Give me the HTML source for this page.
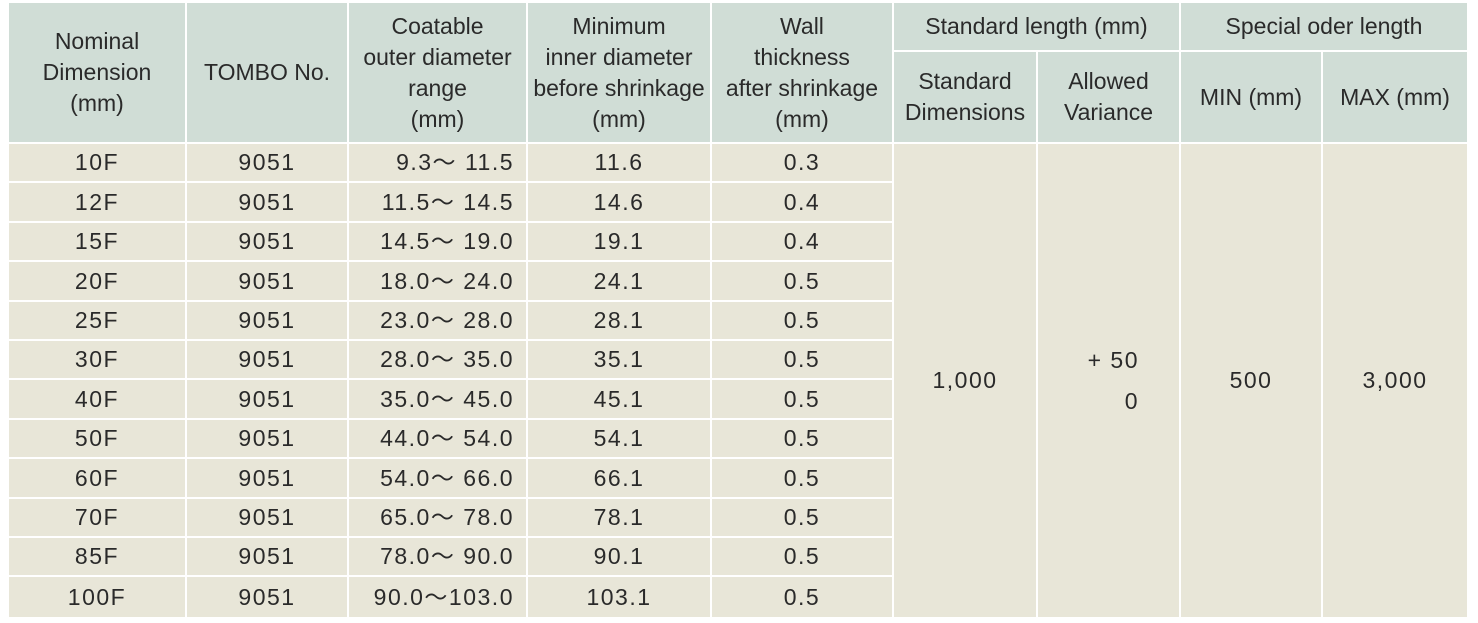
<!DOCTYPE html>
<html><head><meta charset="utf-8"><style>
body{margin:0;width:1478px;height:623px;background:#fff;position:relative;overflow:hidden;font-family:"Liberation Sans","Noto Sans CJK JP",sans-serif;color:#2a2a2a}
.c{position:absolute;display:flex;align-items:center;justify-content:center;text-align:center;font-size:23px;line-height:31px;box-sizing:border-box}
.h{background:#d0ddd6}
.b{background:#e8e6d8;letter-spacing:1.5px}
.r{justify-content:flex-end;padding-right:12px;white-space:pre}
</style></head><body>
<div class="c h" style="left:9px;top:3px;width:176px;height:139px">Nominal<br>Dimension<br>(mm)</div>
<div class="c h" style="left:187px;top:3px;width:160px;height:139px">TOMBO No.</div>
<div class="c h" style="left:349px;top:3px;width:177px;height:139px">Coatable<br>outer diameter<br>range<br>(mm)</div>
<div class="c h" style="left:528px;top:3px;width:182px;height:139px">Minimum<br>inner diameter<br>before shrinkage<br>(mm)</div>
<div class="c h" style="left:712px;top:3px;width:180px;height:139px">Wall<br>thickness<br>after shrinkage<br>(mm)</div>
<div class="c h" style="left:894px;top:3px;width:285px;height:47px">Standard length (mm)</div>
<div class="c h" style="left:1181px;top:3px;width:286px;height:47px">Special oder length</div>
<div class="c h" style="left:894px;top:52px;width:142px;height:90px">Standard<br>Dimensions</div>
<div class="c h" style="left:1038px;top:52px;width:141px;height:90px">Allowed<br>Variance</div>
<div class="c h" style="left:1181px;top:52px;width:140px;height:90px">MIN (mm)</div>
<div class="c h" style="left:1323px;top:52px;width:144px;height:90px">MAX (mm)</div>
<div class="c b" style="left:894px;top:144px;width:142px;height:473px">1,000</div>
<div class="c b" style="left:1038px;top:144px;width:141px;height:473px;line-height:41px;justify-content:flex-end;padding-right:40px;text-align:right;white-space:pre">+ 50<br>0</div>
<div class="c b" style="left:1181px;top:144px;width:140px;height:473px">500</div>
<div class="c b" style="left:1323px;top:144px;width:144px;height:473px">3,000</div>
<div id="rows"></div>
<script>
var d=[["10F","  9.3～ 11.5","11.6","0.3"],["12F","11.5～ 14.5","14.6","0.4"],["15F","14.5～ 19.0","19.1","0.4"],["20F","18.0～ 24.0","24.1","0.5"],["25F","23.0～ 28.0","28.1","0.5"],["30F","28.0～ 35.0","35.1","0.5"],["40F","35.0～ 45.0","45.1","0.5"],["50F","44.0～ 54.0","54.1","0.5"],["60F","54.0～ 66.0","66.1","0.5"],["70F","65.0～ 78.0","78.1","0.5"],["85F","78.0～ 90.0","90.1","0.5"],["100F","90.0～103.0","103.1","0.5"]];
var h="",cols=[[9,176],[187,160],[349,177],[528,182],[712,180]];
for(var i=0;i<12;i++){var t=Math.round(144+i*39.4),hh=Math.round(144+(i+1)*39.4)-t-2;if(i==11)hh=617-t;
var v=[d[i][0],"9051",d[i][1],d[i][2],d[i][3]];
for(var j=0;j<5;j++)h+='<div class="c b'+(j==2?' r':'')+'" style="left:'+cols[j][0]+'px;top:'+t+'px;width:'+cols[j][1]+'px;height:'+hh+'px">'+v[j]+'</div>';}
document.getElementById("rows").outerHTML=h;
</script>
</body></html>
